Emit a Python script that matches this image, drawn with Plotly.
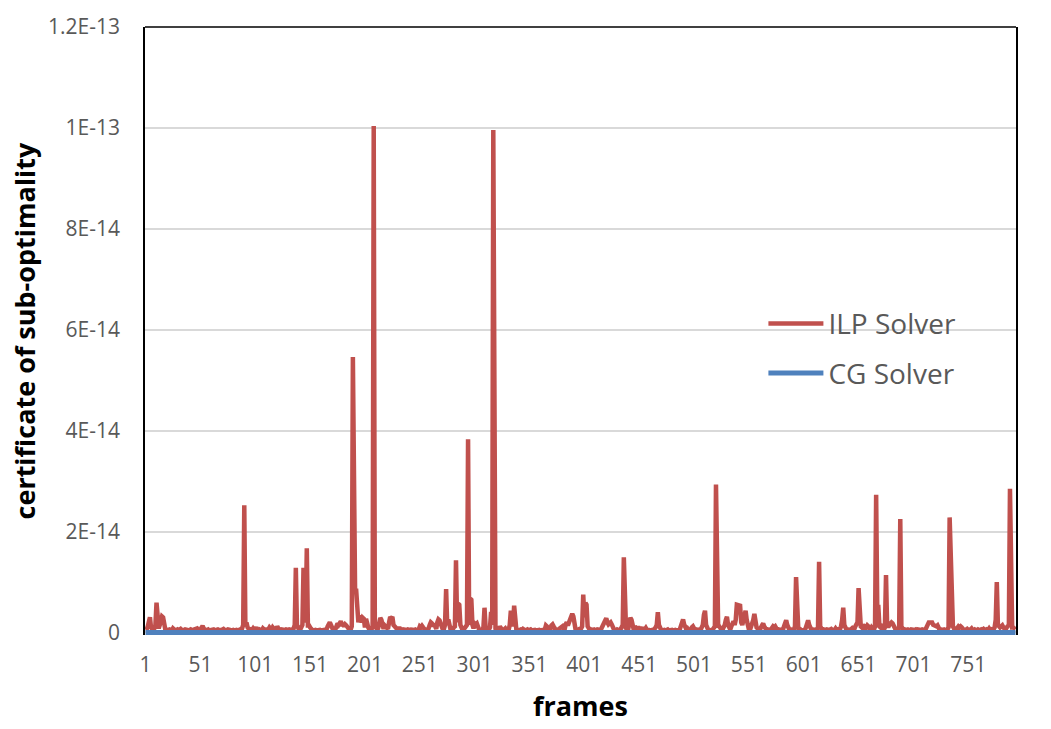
import plotly.graph_objects as go

# ILP solver certificate values, in units of 1E-15, frames 1..794 (20 per row)
ilp_fs = [
    0.5, 0.6, 1.2, 2.0, 3.0, 1.0, 0.6, 0.5, 0.8, 1.5, 5.9, 1.5, 0.8, 1.5, 2.5, 3.2, 3.0, 1.2, 0.6, 0.4,
    0.5, 0.4, 0.6, 0.5, 0.4, 0.8, 0.5, 0.4, 0.5, 0.6, 0.4, 0.5, 0.7, 0.5, 0.4, 0.5, 0.6, 0.4, 0.5, 0.4,
    0.5, 0.6, 0.4, 0.5, 0.4, 0.5, 0.6, 0.8, 0.5, 0.4, 0.6, 1.0, 1.3, 0.8, 0.5, 0.4, 0.5, 0.6, 0.4, 0.5,
    0.4, 0.5, 0.6, 0.4, 0.5, 0.4, 0.6, 0.5, 0.4, 0.5, 0.6, 0.7, 0.5, 0.4, 0.5, 0.6, 0.4, 0.5, 0.4, 0.6,
    0.5, 0.4, 0.6, 0.5, 0.4, 0.5, 0.6, 0.5, 0.8, 1.5, 25.2, 1.2, 2.0, 1.0, 0.5, 0.4, 0.6, 0.5, 0.8, 0.5,
    0.6, 1.0, 0.5, 0.4, 0.6, 0.5, 0.4, 0.8, 0.5, 0.4, 0.6, 0.5, 0.6, 1.0, 0.6, 0.5, 1.0, 0.6, 0.5, 0.6,
    1.2, 0.8, 0.5, 0.4, 0.6, 0.5, 0.4, 0.5, 0.6, 0.4, 0.5, 0.6, 0.4, 0.5, 0.6, 0.8, 1.5, 12.8, 1.5, 0.8,
    0.5, 0.6, 0.9, 1.5, 12.8, 2.0, 3.0, 16.7, 1.4, 1.4, 1.0, 0.6, 0.5, 0.4, 0.6, 0.5, 0.4, 0.5, 0.6, 0.5,
    0.4, 0.5, 0.6, 0.5, 0.4, 0.6, 1.2, 2.0, 2.0, 1.5, 0.6, 0.5, 0.4, 0.6, 1.2, 1.8, 1.5, 2.0, 2.2, 1.6,
    1.6, 1.2, 1.6, 1.4, 1.0, 0.6, 0.5, 0.6, 1.2, 54.6, 8.6, 8.5, 8.4, 3.5, 2.0, 3.3, 2.9, 2.0, 2.9, 2.7,
    1.0, 2.7, 1.5, 1.0, 0.6, 0.5, 0.6, 1.2, 100.4, 1.5, 0.8, 0.6, 0.8, 2.0, 2.9, 2.5, 1.0, 0.7, 1.4, 1.2,
    1.0, 0.7, 2.0, 3.1, 2.8, 3.1, 1.5, 1.2, 0.9, 0.6, 0.5, 0.8, 0.8, 0.5, 0.4, 0.6, 0.5, 0.4, 0.5, 0.6,
    0.4, 0.5, 0.6, 0.5, 0.4, 0.5, 0.6, 0.5, 0.4, 0.6, 1.2, 1.0, 1.3, 1.0, 0.6, 0.5, 0.4, 0.6, 0.8, 1.5,
    2.0, 1.8, 1.2, 1.8, 1.0, 0.7, 2.0, 2.6, 2.4, 1.5, 1.0, 0.6, 0.7, 1.5, 8.6, 1.5, 2.6, 1.0, 0.6, 0.5,
    0.6, 1.0, 1.2, 14.3, 2.0, 5.7, 5.5, 1.5, 0.8, 0.5, 0.6, 0.8, 1.0, 1.5, 38.3, 1.5, 6.7, 6.5, 1.5, 0.8,
    1.8, 1.6, 1.8, 1.0, 0.6, 0.5, 0.6, 0.5, 1.0, 4.9, 1.0, 0.6, 0.5, 0.6, 1.0, 4.1, 1.5, 99.6, 1.5, 0.8,
    0.6, 0.5, 0.6, 1.2, 0.6, 0.5, 0.4, 0.6, 0.8, 0.5, 0.6, 0.5, 1.5, 4.3, 3.0, 1.2, 5.3, 1.2, 0.6, 0.5,
    0.4, 0.5, 0.6, 0.5, 0.7, 0.5, 0.4, 0.5, 0.6, 0.4, 0.5, 0.6, 0.4, 0.5, 0.6, 0.5, 0.4, 0.5, 0.6, 0.5,
    0.4, 0.5, 0.6, 0.5, 0.6, 1.4, 1.2, 0.6, 0.5, 0.6, 1.4, 1.6, 1.2, 0.6, 0.5, 0.4, 0.6, 0.5, 0.8, 1.2,
    1.2, 0.8, 0.6, 1.6, 2.0, 1.4, 2.0, 2.6, 3.0, 3.7, 3.2, 1.0, 0.6, 0.5, 0.4, 0.6, 0.5, 0.8, 1.2, 7.5,
    3.0, 5.9, 5.5, 1.2, 0.8, 0.5, 0.6, 0.4, 0.5, 0.6, 0.5, 0.4, 0.6, 0.5, 0.6, 0.5, 1.0, 1.5, 2.2, 2.5,
    2.8, 2.0, 1.6, 1.8, 2.0, 1.6, 1.0, 0.6, 0.5, 0.4, 0.6, 0.5, 0.4, 0.6, 1.2, 1.5, 14.9, 1.2, 0.6, 0.8,
    0.6, 2.0, 2.9, 2.5, 1.0, 0.6, 1.2, 1.0, 0.6, 1.2, 0.6, 1.0, 0.6, 1.0, 0.5, 0.6, 0.9, 0.5, 0.6, 0.5,
    0.4, 0.6, 0.5, 0.4, 0.6, 1.0, 1.5, 4.0, 1.5, 0.8, 0.5, 0.4, 0.6, 0.5, 0.4, 0.5, 0.6, 0.4, 0.5, 0.6,
    0.5, 0.4, 0.6, 0.5, 0.4, 0.6, 0.5, 0.6, 1.2, 2.0, 2.6, 1.6, 1.0, 0.6, 0.8, 0.5, 0.6, 0.5, 1.0, 1.2,
    0.8, 0.5, 0.6, 0.4, 0.5, 0.6, 0.5, 1.0, 1.5, 3.5, 4.3, 1.5, 0.6, 0.5, 0.4, 0.6, 0.5, 0.6, 1.0, 1.2,
    29.3, 1.2, 1.0, 1.2, 0.6, 0.5, 0.6, 1.0, 1.5, 2.5, 3.1, 1.5, 1.0, 0.6, 1.2, 1.8, 2.2, 1.5, 2.5, 5.5,
    5.5, 5.5, 5.3, 2.0, 1.5, 2.5, 3.5, 4.3, 2.5, 1.2, 0.6, 0.5, 1.0, 1.5, 2.5, 3.7, 2.0, 1.0, 0.8, 0.6,
    0.5, 1.0, 1.5, 1.8, 1.2, 0.8, 0.5, 0.6, 0.4, 0.5, 0.6, 1.0, 1.2, 1.0, 1.2, 0.8, 0.5, 0.6, 0.4, 0.5,
    0.6, 0.5, 1.2, 1.8, 2.4, 1.5, 0.8, 0.5, 0.6, 0.4, 0.5, 0.6, 1.2, 11.0, 1.5, 0.8, 0.5, 0.6, 0.4, 0.5,
    0.6, 0.5, 1.0, 1.8, 2.4, 1.5, 0.8, 0.5, 0.6, 0.4, 0.5, 0.6, 0.5, 1.0, 14.0, 1.2, 0.8, 0.5, 0.6, 0.4,
    0.5, 0.6, 0.4, 0.5, 0.6, 0.7, 0.5, 0.4, 0.5, 0.8, 0.5, 0.6, 0.4, 0.6, 1.2, 2.5, 4.9, 1.5, 0.8, 0.5,
    0.6, 0.4, 0.5, 0.6, 0.8, 0.5, 0.6, 1.2, 1.5, 2.0, 8.8, 1.5, 1.2, 1.0, 1.5, 1.2, 0.6, 1.0, 1.4, 1.2,
    0.6, 0.5, 1.0, 0.6, 0.5, 1.2, 27.3, 5.3, 5.2, 1.2, 1.0, 1.2, 0.6, 0.5, 1.0, 11.4, 1.5, 1.0, 1.5, 2.0,
    2.0, 1.8, 1.2, 0.8, 0.5, 0.6, 0.5, 1.0, 22.5, 1.2, 0.8, 0.5, 0.6, 0.4, 0.5, 0.6, 0.5, 0.4, 0.6, 0.5,
    0.4, 0.5, 0.6, 0.4, 0.6, 0.5, 0.4, 0.5, 0.6, 0.4, 0.5, 0.6, 1.0, 1.8, 2.0, 2.0, 1.9, 2.0, 1.5, 1.4,
    1.4, 1.2, 1.4, 0.8, 0.5, 0.6, 0.4, 0.5, 0.6, 0.5, 0.4, 0.6, 1.0, 22.8, 14.2, 14.0, 1.2, 0.8, 0.5, 0.6,
    1.0, 1.2, 1.0, 1.2, 1.0, 0.6, 0.5, 0.4, 0.6, 0.7, 0.5, 0.4, 0.6, 0.8, 0.5, 0.4, 0.6, 0.5, 0.4, 0.6,
    0.5, 0.4, 0.6, 0.5, 0.7, 0.5, 0.4, 0.6, 0.5, 0.8, 0.5, 0.6, 0.4, 0.6, 1.0, 2.5, 10.0, 1.5, 1.2, 1.0,
    1.2, 1.4, 1.0, 0.6, 0.5, 1.0, 1.2, 1.5, 28.5, 1.2, 1.0, 1.0, 0.8, 0.6,
]

frames = list(range(1, len(ilp_fs) + 1))
ilp_values = [v * 1e-15 for v in ilp_fs]
cg_values = [0.0 for _ in frames]  # CG solver certificate is zero for every frame

x_tickvals = [1, 51, 101, 151, 201, 251, 301, 351, 401, 451, 501, 551, 601, 651, 701, 751]
y_tickvals = [0, 2e-14, 4e-14, 6e-14, 8e-14, 1e-13, 1.2e-13]
y_ticktext = ["0", "2E-14", "4E-14", "6E-14", "8E-14", "1E-13", "1.2E-13"]

FONT = "Open Sans, Lato, sans-serif"
GREY = "#595959"

fig = go.Figure()
fig.add_trace(go.Scatter(
    x=frames, y=ilp_values, mode="lines", name="ILP Solver", legendgroup="ilp",
    line=dict(color="#C0504D", width=4.5),
))
fig.add_trace(go.Scatter(
    x=frames, y=cg_values, mode="lines", name="CG Solver", legendgroup="cg",
    line=dict(color="#4F81BD", width=5),
))

fig.update_layout(
    width=1051, height=729,
    margin=dict(l=145, r=35, t=22, b=94),
    paper_bgcolor="white", plot_bgcolor="white",
    font=dict(family=FONT, color=GREY, size=21),
    showlegend=True,
    legend=dict(
        x=0.71, y=0.553, xanchor="left", yanchor="top",
        bgcolor="rgba(0,0,0,0)", font=dict(family=FONT, size=28, color=GREY),
        tracegroupgap=10, traceorder="grouped", itemwidth=55,
    ),
    xaxis=dict(
        range=[0.5, len(frames) + 0.5],
        tickmode="array", tickvals=x_tickvals, ticktext=[str(v) for v in x_tickvals],
        ticks="", ticklabelstandoff=15,
        showgrid=False, zeroline=False, showline=False,
        tickfont=dict(family=FONT, size=21, color=GREY),
        title=dict(text="<b>frames</b>", font=dict(family=FONT, size=27, color="black"), standoff=20),
    ),
    yaxis=dict(
        range=[-0.5e-15, 1.2e-13],
        tickmode="array", tickvals=y_tickvals, ticktext=y_ticktext,
        ticks="", ticklabelstandoff=19,
        showgrid=True, gridcolor="#D9D9D9", gridwidth=1.5,
        zeroline=False, showline=True, linecolor="black", linewidth=1.5, mirror=True,
        tickfont=dict(family=FONT, size=21, color=GREY),
        title=dict(text="<b>certificate of sub-optimality</b>",
                   font=dict(family=FONT, size=27, color="black"), standoff=5),
    ),
    shapes=[dict(type="line", xref="paper", yref="paper", x0=0, x1=1, y0=1, y1=1,
                 line=dict(color="black", width=1.5))],
)

fig.write_html("out.html")
